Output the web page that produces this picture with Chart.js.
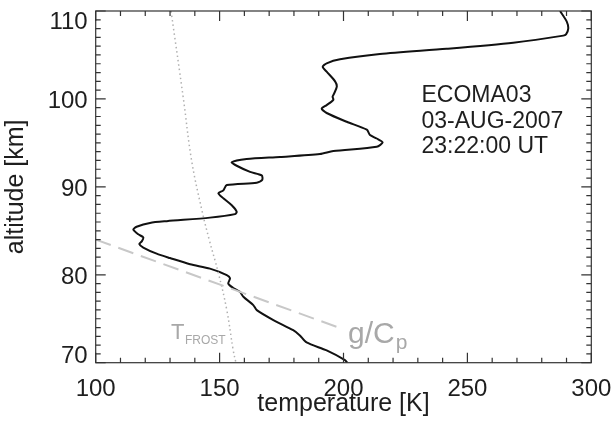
<!DOCTYPE html>
<html>
<head>
<meta charset="utf-8">
<script src="https://cdn.jsdelivr.net/npm/chart.js@4/dist/chart.umd.min.js"></script>
<style>
  html, body { margin: 0; padding: 0; background: #fff; }
  #wrap { width: 614px; height: 431px; position: relative; }
</style>
</head>
<body>
<div id="wrap"><canvas id="tempChart"></canvas></div>
<script>
// measured temperature profile (altitude in km, temperature in K)
const profileAlt = [110.0, 108.8, 108.0, 107.35, 107.2, 106.4, 105.7, 105.1, 104.5, 104.05,
  103.66, 103.1, 102.0, 101.4, 100.6, 100.25, 99.9, 99.3, 98.9, 98.4,
  97.4, 96.5, 95.9, 95.5, 95.06, 94.56, 94.07, 93.73, 93.4, 93.16,
  92.8, 92.4, 91.7, 91.3, 90.8, 90.47, 90.2, 89.6, 89.26, 88.7,
  87.9, 87.17, 86.9, 86.5, 86.1, 85.9, 85.46, 85.16, 84.6, 84.25,
  83.8, 83.5, 83.1, 82.4, 81.9, 81.2, 80.7, 79.97, 79.6, 79.0,
  78.5, 78.06, 77.5, 76.55, 75.98, 74.85, 73.7, 73.1, 72.3, 71.4,
  70.3, 70.0];
const profileTemp = [287.4, 290.1, 290.7, 289.8, 288.7, 268.5, 241.6, 214.7, 198.6, 193.2,
  191.6, 193.2, 196.6, 197.3, 196.2, 195.6, 195.9, 193.2, 191.2, 193.2,
  201.3, 209.4, 210.7, 213.4, 215.8, 213.4, 195.9, 190.5, 174.4, 160.9,
  154.9, 156.9, 162.3, 167.0, 167.2, 165.0, 152.9, 151.5, 149.5, 151.5,
  154.9, 156.9, 156.2, 146.1, 128.7, 121.9, 116.5, 115.2, 117.2, 119.2,
  118.6, 117.6, 119.2, 124.6, 130.0, 138.1, 146.1, 152.9, 154.2, 153.5,
  155.5, 158.2, 159.6, 163.6, 165.0, 171.7, 179.7, 182.4, 185.1, 193.2,
  200.6, 201.5];

// frost point temperature
const frostAlt = [110, 100, 93, 87.4, 84, 80.2, 76, 71.4, 70];
const frostTemp = [130.4, 135.4, 138.7, 142.8, 145.8, 149.5, 152.9, 155.5, 156.6];

// dry adiabatic lapse rate g/Cp
const adiabatAlt = [84.0, 74.0];
const adiabatTemp = [100.0, 198.0];

const xTicks = [100, 150, 200, 250, 300];
const yTicks = [70, 80, 90, 100, 110];
const infoLines = ["ECOMA03", "03-AUG-2007", "23:22:00 UT"];

const toPoints = (xs, ys) => xs.map((x, i) => ({ x: x, y: ys[i] }));

const FONT = "'Liberation Sans', Arial, sans-serif";
const INK = "#1e1e1e";

// box, inward ticks, labels and annotations
const framePlugin = {
  id: "frame",
  afterDatasetsDraw(chart) {
    const ctx = chart.ctx;
    const a = chart.chartArea;
    const xs = chart.scales.x;
    const ys = chart.scales.y;
    ctx.save();
    ctx.strokeStyle = "#333";
    ctx.lineWidth = 1.2;
    ctx.strokeRect(a.left, a.top, a.right - a.left, a.bottom - a.top);

    ctx.beginPath();
    for (let t = 100; t <= 300; t += 10) {
      const px = xs.getPixelForValue(t);
      const len = t % 50 === 0 ? 10 : 5;
      ctx.moveTo(px, a.bottom); ctx.lineTo(px, a.bottom - len);
      ctx.moveTo(px, a.top); ctx.lineTo(px, a.top + len);
    }
    for (let h = 70; h <= 110; h += 1) {
      const py = ys.getPixelForValue(h);
      const len = h % 10 === 0 ? 10 : 5;
      ctx.moveTo(a.left, py); ctx.lineTo(a.left + len, py);
      ctx.moveTo(a.right, py); ctx.lineTo(a.right - len, py);
    }
    ctx.stroke();

    ctx.fillStyle = INK;
    ctx.font = "24px " + FONT;
    ctx.textAlign = "center";
    ctx.textBaseline = "alphabetic";
    xTicks.forEach(t => ctx.fillText(String(t), xs.getPixelForValue(t), a.bottom + 33));
    ctx.textAlign = "right";
    yTicks.forEach(h => {
      const py = ys.getPixelForValue(h);
      const base = Math.min(Math.max(py + 9, a.top + 17.5), a.bottom);
      ctx.fillText(String(h), a.left - 8, base);
    });

    ctx.font = "25px " + FONT;
    ctx.textAlign = "center";
    ctx.fillText("temperature [K]", (a.left + a.right) / 2, 411);
    ctx.save();
    ctx.translate(23, (a.top + a.bottom) / 2);
    ctx.rotate(-Math.PI / 2);
    ctx.fillText("altitude [km]", 0, 0);
    ctx.restore();

    ctx.font = "23px " + FONT;
    ctx.textAlign = "left";
    infoLines.forEach((s, i) => ctx.fillText(s, 421.5, 101.7 + i * 25.8));

    // line labels
    ctx.fillStyle = "#a8a8a8";
    ctx.font = "22px " + FONT;
    ctx.fillText("T", 171, 339);
    ctx.font = "12px " + FONT;
    ctx.fillText("FROST", 185, 343.5);
    ctx.font = "30px " + FONT;
    ctx.fillText("g/C", 348, 343);
    const w = ctx.measureText("g/C").width;
    ctx.font = "21px " + FONT;
    ctx.fillText("p", 348 + w + 1, 349);
    ctx.restore();
  }
};

new Chart(document.getElementById("tempChart").getContext("2d"), {
  type: "scatter",
  data: {
    datasets: [
      {
        label: "adiabat",
        data: toPoints(adiabatTemp, adiabatAlt),
        showLine: true,
        borderColor: "#c8c8c8",
        borderWidth: 2,
        borderDash: [16, 8],
        pointRadius: 0,
      },
      {
        label: "frost",
        data: toPoints(frostTemp, frostAlt),
        showLine: true,
        borderColor: "#b0b0b0",
        borderWidth: 1.5,
        borderDash: [1.5, 3],
        pointRadius: 0,
        tension: 0.4,
      },
      {
        label: "temperature",
        data: toPoints(profileTemp, profileAlt),
        showLine: true,
        borderColor: "#111",
        borderWidth: 2,
        pointRadius: 0,
        tension: 0.25,
      },
    ],
  },
  options: {
    responsive: true,
    maintainAspectRatio: false,
    animation: false,
    layout: { padding: { left: 95.7, right: 22.7, top: 11, bottom: 68.3 } },
    plugins: { legend: { display: false }, tooltip: { enabled: false } },
    scales: {
      x: { type: "linear", min: 100, max: 300, display: false },
      y: { type: "linear", min: 70, max: 110, display: false },
    },
  },
  plugins: [framePlugin],
});
</script>
</body>
</html>
